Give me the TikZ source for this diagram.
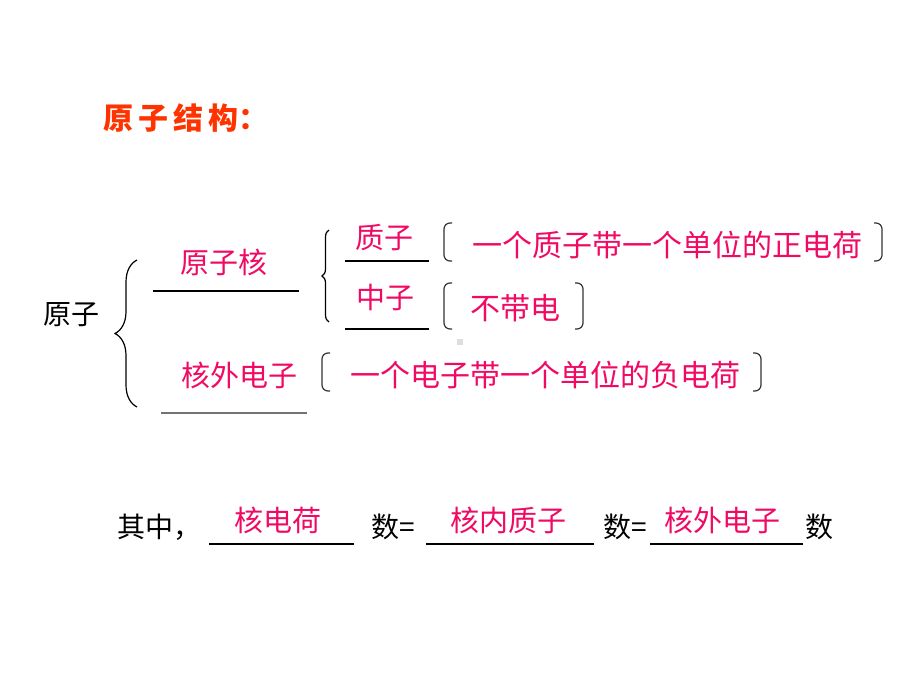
\documentclass[tikz,border=0pt]{standalone}
\usepackage{fontspec}
\setmainfont{Noto Sans CJK SC}
\usepackage{tikz}
\usetikzlibrary{decorations.pathreplacing}
\definecolor{pinkred}{RGB}{240,10,100}
\definecolor{titlered}{RGB}{255,51,0}

\begin{document}
\begin{tikzpicture}[x=1pt,y=-1pt,line width=1.2pt]
		\tikzstyle{txt}=[inner sep=0pt,font=\fontsize{28}{30}\selectfont]
		\tikzstyle{ans}=[inner sep=0pt,text=pinkred,font=\fontsize{29}{31}\selectfont]
		\tikzstyle{desc}=[inner sep=0pt,text=pinkred,font=\fontsize{30}{32}\selectfont]
		\tikzstyle{bra}=[draw=black!80,rounded corners=6pt]
		\useasboundingbox (0,0) rectangle (920,690);
		
		\node[inner sep=0pt,anchor=west,text=titlered,font=\bfseries\fontsize{30}{32}\selectfont](title) at (103,118){原\hspace{5pt}子\hspace{5pt}结\hspace{5pt}构：};
		
		\node[txt](atom) at (71,315){原子};
		\node[ans](nuc) at (224,262){原子核};
		\node[ans](pro) at (384,238){质子};
		\node[ans](neu) at (385,297){中子};
		\node[ans](ele) at (239,375){核外电子};
		
		\node[desc](d1) at (667,245){一个质子带一个单位的正电荷};
		\node[desc](d2) at (515,308){不带电};
		\node[desc](d3) at (545,375){一个电子带一个单位的负电荷};
		
		\node[txt,anchor=west](q) at (117,527){其中，};
		\node[ans](f1) at (278,520){核电荷};
		\node[txt,anchor=west](s1) at (371,527){数=};
		\node[ans](f2) at (508,520){核内质子};
		\node[txt,anchor=west](s2) at (603,527){数=};
		\node[ans](f3) at (722,520){核外电子};
		\node[txt,anchor=west](s3) at (805,527){数};
		
		\draw (153,291) -- (299,291);
		\draw (345,261) -- (429,261);
		\draw (345,329) -- (429,329);
		\draw[black!55,line width=2pt] (161,413) -- (307,413);
		\draw (209,544) -- (354,544);
		\draw (426,544) -- (594,544);
		\draw (650,544) -- (803,544);
		
		\draw [decorate,decoration={brace,amplitude=22pt}] (137,407) -- (137,260);
		\draw [decorate,decoration={brace,amplitude=7pt}] (329,322) -- (329,230);
		
		\draw[bra] (452,223) -- (444,223) -- (444,261) -- (452,261);
		\draw[bra] (874,223) -- (882,223) -- (882,261) -- (874,261);
		\draw[bra] (452,283) -- (444,283) -- (444,329) -- (452,329);
		\draw[bra] (575,283) -- (583,283) -- (583,329) -- (575,329);
		\draw[bra] (330,353) -- (322,353) -- (322,391) -- (330,391);
		\draw[bra] (753,353) -- (761,353) -- (761,391) -- (753,391);
		
		\fill[black!13] (457,339) rectangle (463,345);
\end{tikzpicture}
\end{document}
